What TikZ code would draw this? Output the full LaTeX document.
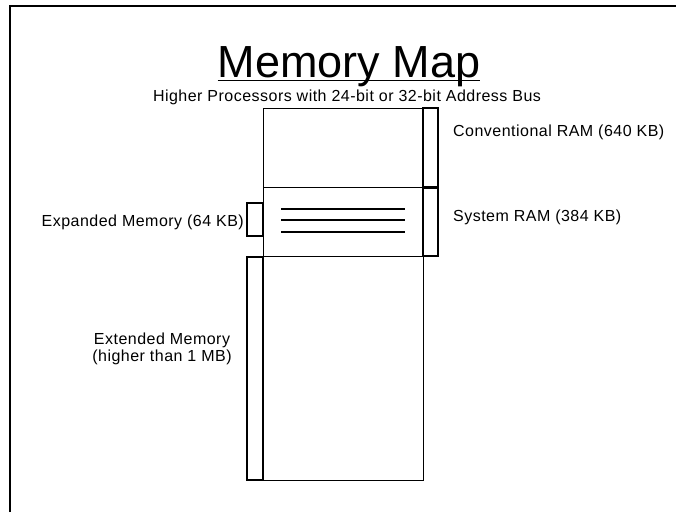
\documentclass[tikz,border=0pt]{standalone}
\usepackage{fontspec}
\setmainfont{Liberation Sans}
\newfontfamily\lblfont[LetterSpace=3]{Liberation Sans}
\usepackage{tikz}
\usetikzlibrary{positioning}

\tikzset{
  memlabel/.style={font=\lblfont\fontsize{16}{17}\selectfont, inner sep=0pt},
  region/.style={draw, line width=1pt},
  bracket/.style={draw, line width=1.6pt},
  emsline/.style={line width=1.8pt}
}

\begin{document}
\begin{tikzpicture}[x=1pt, y=-1pt]
  \useasboundingbox (0,0) rectangle (676,512);
  % slide frame
  \draw[line width=1.7pt] (10,512) -- (10,6) -- (676,6);

  % heading
  \node[font=\fontsize{45}{50}\selectfont, inner sep=0pt, anchor=base] (title) at (349,77) {Memory Map};
  \draw[line width=1pt] ([yshift=-3pt]title.base west) -- ([yshift=-3pt]title.base east);
  \node[memlabel, anchor=base] (subtitle) at (347,101) {Higher Processors with 24-bit or 32-bit Address Bus};

  % memory column
  \draw[region] (263,108) rectangle (423,480);
  \draw[line width=0.8pt] (263,187) -- (423,187);
  \draw[line width=0.8pt] (263,256) -- (423,256);
  \foreach \y in {209,220,232}
    \draw[emsline] (281,\y) -- (405,\y);

  % brackets
  \draw[bracket] (423,108) rectangle (438,187);
  \draw[bracket] (423,188) rectangle (438,256);
  \draw[bracket] (247,203) rectangle (263,236);
  \draw[bracket] (247,257) rectangle (263,480);

  % labels
  \node[memlabel, anchor=base west] (conv) at (453,136) {Conventional RAM (640 KB)};
  \node[memlabel, anchor=base west] (sysram) at (453,221) {System RAM (384 KB)};
  \node[memlabel, anchor=base east] (expd) at (244,226) {Expanded Memory (64 KB)};
  \node[memlabel, align=center, anchor=center] (extd) at (162,349) {Extended Memory\\(higher than 1 MB)};
\end{tikzpicture}
\end{document}
